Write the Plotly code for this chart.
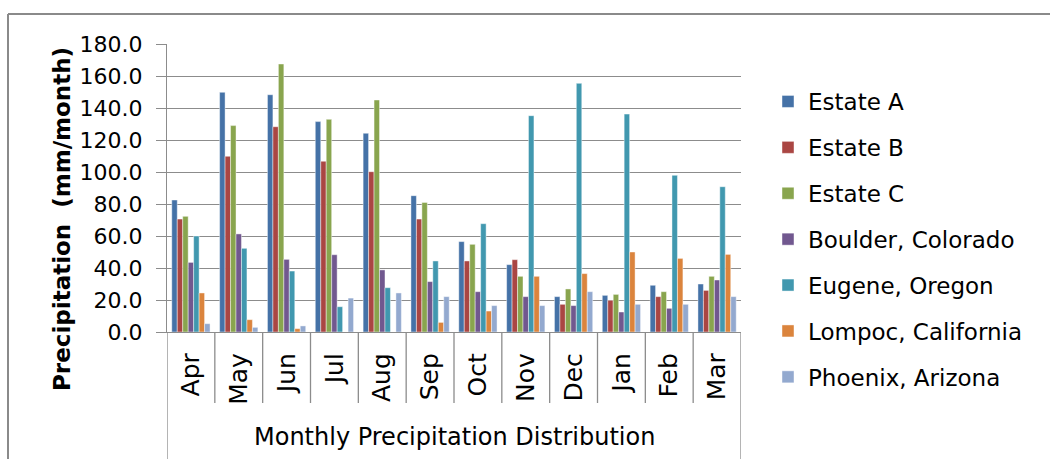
import plotly.graph_objects as go

months = ["Apr", "May", "Jun", "Jul", "Aug", "Sep", "Oct", "Nov", "Dec", "Jan", "Feb", "Mar"]

estate_a = [82.5, 149.8, 148.3, 131.5, 124.2, 85.2, 56.5, 42.1, 22.1, 22.9, 29.2, 30.0]
estate_b = [70.6, 109.8, 128.3, 106.7, 100.2, 70.6, 44.4, 45.2, 17.3, 19.8, 22.1, 26.0]
estate_c = [72.3, 129.0, 167.5, 132.9, 145.0, 81.0, 54.8, 34.8, 26.9, 23.5, 25.2, 34.8]
boulder = [43.5, 61.3, 45.4, 48.3, 38.8, 31.5, 25.2, 22.1, 16.5, 12.5, 14.8, 32.5]
eugene = [60.0, 52.3, 38.1, 15.8, 27.7, 44.4, 67.7, 135.2, 155.4, 136.2, 97.9, 90.8]
lompoc = [24.4, 7.7, 2.1, 0.0, 0.0, 6.0, 13.1, 34.8, 36.5, 50.0, 46.0, 48.5]
phoenix = [5.2, 2.9, 3.8, 21.2, 24.4, 22.1, 16.5, 16.5, 25.2, 17.3, 17.3, 22.1]

series = [
    ("Estate A", estate_a, "#4572A7"),
    ("Estate B", estate_b, "#AA4643"),
    ("Estate C", estate_c, "#89A54E"),
    ("Boulder, Colorado", boulder, "#71588F"),
    ("Eugene, Oregon", eugene, "#4198AF"),
    ("Lompoc, California", lompoc, "#DB843D"),
    ("Phoenix, Arizona", phoenix, "#93A9CF"),
]

FONT = "DejaVu Sans"
GRID = "#8c8c8c"

fig = go.Figure()
for name, vals, color in series:
    fig.add_trace(go.Bar(
        x=months, y=vals, name=name, legendgroup=name,
        marker=dict(color=color, line=dict(color="rgba(255,255,255,0.55)", width=0.8)),
    ))

# plot-area geometry (px) used to place the frame lines in paper units
L, R, T, B = 167, 741, 44, 332
W, H = 1050, 459
pw, ph = R - L, B - T

def px_x(v):
    return (v - L) / pw

def px_y(v):
    return (B - v) / ph

shapes = []
# category dividers below the axis
for i in range(len(months) + 1):
    bottom = px_y(H + 5) if i in (0, len(months)) else px_y(403)
    shapes.append(dict(type="line", xref="x", yref="paper",
                       x0=i - 0.5, x1=i - 0.5, y0=0, y1=bottom,
                       line=dict(color=GRID, width=1.3)))
# outer chart frame
shapes.append(dict(type="line", xref="paper", yref="paper",
                   x0=px_x(8), x1=px_x(8), y0=px_y(14), y1=px_y(H + 5),
                   line=dict(color="#8a8a8a", width=2)))
shapes.append(dict(type="line", xref="paper", yref="paper",
                   x0=px_x(8), x1=px_x(W + 5), y0=px_y(14), y1=px_y(14),
                   line=dict(color="#8a8a8a", width=2)))

fig.update_layout(
    width=W, height=H,
    margin=dict(l=L, r=W - R, t=T, b=H - B),
    paper_bgcolor="white", plot_bgcolor="white",
    font=dict(family=FONT, color="black"),
    barmode="group", bargap=0.2, bargroupgap=0,
    showlegend=True,
    legend=dict(
        xref="container", yref="container",
        x=768 / W, y=1 - 80 / H, xanchor="left", yanchor="top",
        font=dict(family=FONT, size=23, color="black"),
        tracegroupgap=13, bgcolor="rgba(0,0,0,0)",
        maxheight=420,
    ),
    shapes=shapes,
    annotations=[
        dict(text="Monthly Precipitation Distribution",
             xref="paper", yref="paper", x=0.5, y=px_y(437),
             xanchor="center", yanchor="middle", showarrow=False,
             font=dict(family=FONT, size=24, color="black")),
        dict(text="<b>Precipitation  (mm/month)</b>",
             xref="paper", yref="paper", x=px_x(62), y=px_y(219),
             xanchor="center", yanchor="middle", showarrow=False,
             textangle=-90,
             font=dict(family=FONT, size=23, color="black")),
    ],
)

fig.update_yaxes(
    range=[0, 180], dtick=20, tickformat=".1f",
    showgrid=True, gridcolor=GRID, gridwidth=1.3,
    showline=True, linecolor=GRID, linewidth=1.3,
    ticks="outside", ticklen=10, tickcolor=GRID, tickwidth=1.3,
    ticklabelstandoff=9,
    tickfont=dict(family=FONT, size=22, color="black"),
    zeroline=False,
)

fig.update_xaxes(
    type="category", showline=True, linecolor=GRID, linewidth=1.3,
    ticks="", tickangle=-90, ticklabelstandoff=10,
    tickfont=dict(family=FONT, size=25, color="black"),
    showgrid=False, range=[-0.5, len(months) - 0.5],
)

fig.write_html("out.html")
